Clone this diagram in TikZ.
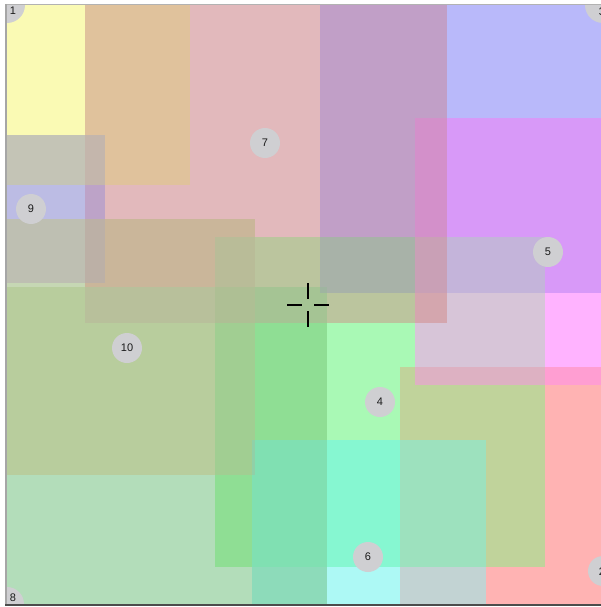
\documentclass[tikz,border=0pt]{standalone}
\usepackage{fontspec}
\setmainfont{Liberation Sans}
% single rectangles
\definecolor{sA}{HTML}{FAFAB4}
\definecolor{sG}{HTML}{E2B9BC}
\definecolor{sC}{HTML}{B9B9FA}
\definecolor{sI}{HTML}{BCBCE4}
\definecolor{sJ}{HTML}{C6D7B4}
\definecolor{sE}{HTML}{FFB3FF}
\definecolor{sD}{HTML}{A9F9B5}
\definecolor{sB}{HTML}{FFB3B3}
\definecolor{sH}{HTML}{B3DDBA}
\definecolor{sF}{HTML}{ADF9F5}
% pairs
\definecolor{pAG}{HTML}{E0C29C}
\definecolor{pAI}{HTML}{C4C4B6}
\definecolor{pGI}{HTML}{BDA3C8}
\definecolor{pIJ}{HTML}{BEBFB2}
\definecolor{pGJ}{HTML}{CAB69A}
\definecolor{pJH}{HTML}{B8CD9D}
\definecolor{pGC}{HTML}{C19FC7}
\definecolor{pCE}{HTML}{D899F8}
\definecolor{pGD}{HTML}{BBC59E}
\definecolor{pDE}{HTML}{D7C5D8}
\definecolor{pEB}{HTML}{FF9ED2}
\definecolor{pDB}{HTML}{C0D39B}
\definecolor{pDH}{HTML}{8FDE94}
\definecolor{pDF}{HTML}{86F7D1}
\definecolor{pBF}{HTML}{C2D3D3}
\definecolor{pHF}{HTML}{8DDBBA}
% triples
\definecolor{tAGI}{HTML}{C4B6AC}
\definecolor{tGIJ}{HTML}{BCB0A6}
\definecolor{tGJH}{HTML}{B8C09B}
\definecolor{tGJD}{HTML}{B9BC98}
\definecolor{tGCE}{HTML}{D390CA}
\definecolor{tGCD}{HTML}{A8B2A8}
\definecolor{tCDE}{HTML}{C4B4DA}
\definecolor{tGDE}{HTML}{D4A6AE}
\definecolor{tGDH}{HTML}{A5C494}
\definecolor{tDEB}{HTML}{DDB1C2}
\definecolor{tDBF}{HTML}{9DE1BE}
\definecolor{tDHF}{HTML}{80E0B2}
\definecolor{tDHJ}{HTML}{A1CE92}
% quads
\definecolor{qGCDE}{HTML}{C9A0B6}
\definecolor{qGJDH}{HTML}{AEBF94}
\definecolor{qGCDH}{HTML}{9FB5A0}
\definecolor{qDHJF}{HTML}{90D0A8}
\definecolor{badge}{HTML}{CFCFD2}
\definecolor{badgetext}{HTML}{1A1A1A}
\newcommand\rr[5]{\fill[#1] (#2,#3) rectangle (#4,#5);}
\begin{document}
\begin{tikzpicture}[x=1pt,y=-1pt,
  badgecircle/.style={circle,fill=badge,minimum size=30pt,inner sep=0pt},
  badgelabel/.style={inner sep=0pt,text=badgetext,font=\fontsize{11}{12}\selectfont},
  crossarm/.style={line width=2pt,black}]
\useasboundingbox (0,0) rectangle (601,607);
\fill[white] (0,0) rectangle (601,607);
\begin{scope}
\clip (7,5) rectangle (601,604);
% singles
\rr{sA}{7}{5}{190}{185}
\rr{sG}{85}{5}{447}{323}
\rr{sC}{320}{5}{601}{293}
\rr{sI}{7}{135}{105}{283}
\rr{sJ}{7}{219}{255}{475}
\rr{sE}{415}{118}{601}{385}
\rr{sD}{215}{237}{545}{567}
\rr{sB}{400}{367}{601}{604}
\rr{sH}{7}{287}{327}{604}
\rr{sF}{252}{440}{486}{604}
% pairs
\rr{pAG}{85}{5}{190}{185}
\rr{pAI}{7}{135}{105}{185}
\rr{pGI}{85}{135}{105}{283}
\rr{pIJ}{7}{219}{105}{283}
\rr{pGJ}{85}{219}{255}{323}
\rr{pJH}{7}{287}{255}{475}
\rr{pGC}{320}{5}{447}{293}
\rr{pCE}{415}{118}{601}{293}
\rr{pGD}{215}{237}{447}{323}
\rr{pDE}{415}{237}{545}{385}
\rr{pEB}{415}{367}{601}{385}
\rr{pDB}{400}{367}{545}{567}
\rr{pDH}{215}{287}{327}{567}
\rr{pDF}{252}{440}{486}{567}
\rr{pBF}{400}{440}{486}{604}
\rr{pHF}{252}{440}{327}{604}
% triples
\rr{tAGI}{85}{135}{105}{185}
\rr{tGIJ}{85}{219}{105}{283}
\rr{tGJH}{85}{287}{255}{323}
\rr{tGJD}{215}{237}{255}{323}
\rr{tGCE}{415}{118}{447}{293}
\rr{tGCD}{320}{237}{447}{293}
\rr{tCDE}{415}{237}{545}{293}
\rr{tGDE}{415}{237}{447}{323}
\rr{tGDH}{215}{287}{327}{323}
\rr{tDEB}{415}{367}{545}{385}
\rr{tDBF}{400}{440}{486}{567}
\rr{tDHF}{252}{440}{327}{567}
\rr{tDHJ}{215}{287}{255}{475}
% quads
\rr{qGCDE}{415}{237}{447}{293}
\rr{qGJDH}{215}{287}{255}{323}
\rr{qGCDH}{320}{287}{327}{293}
\rr{qDHJF}{252}{440}{255}{475}
% badges
\node[badgecircle] (b7) at (265,143) {};
\node[badgelabel] (t7) at (b7.center) {7};
\node[badgecircle] (b9) at (31,209) {};
\node[badgelabel] (t9) at (b9.center) {9};
\node[badgecircle] (b10) at (127,348) {};
\node[badgelabel] (t10) at (b10.center) {10};
\node[badgecircle] (b4) at (380,402) {};
\node[badgelabel] (t4) at (b4.center) {4};
\node[badgecircle] (b5) at (548,252) {};
\node[badgelabel] (t5) at (b5.center) {5};
\node[badgecircle] (b6) at (368,557) {};
\node[badgelabel] (t6) at (b6.center) {6};
\node[badgecircle,minimum size=36pt] (b1) at (7,5) {};
\node[badgelabel] (t1) at (13,11) {1};
\node[badgecircle,minimum size=36pt] (b3) at (603,5) {};
\node[badgelabel] (t3) at (602,12) {3};
\node[badgecircle,minimum size=34pt] (b8) at (7,604) {};
\node[badgelabel] (t8) at (13,598) {8};
\node[badgecircle] (b2) at (603,571) {};
\node[badgelabel] (t2) at (602,572) {2};
\end{scope}
% crosshair
\coordinate (cx) at (308,305);
\draw[crossarm] ([xshift=-21pt]cx) -- ([xshift=-6pt]cx);
\draw[crossarm] ([xshift=6pt]cx) -- ([xshift=21pt]cx);
\draw[crossarm] ([yshift=22pt]cx) -- ([yshift=6pt]cx);
\draw[crossarm] ([yshift=-6pt]cx) -- ([yshift=-22pt]cx);
% frame
\draw[line width=1.5pt,color=black!30] (6,4.5) -- (601,4.5);
\draw[line width=1.8pt,color=black!35] (6,4) -- (6,605);
\draw[line width=2pt,color=black!70] (5,605) -- (601,605);
\end{tikzpicture}
\end{document}
